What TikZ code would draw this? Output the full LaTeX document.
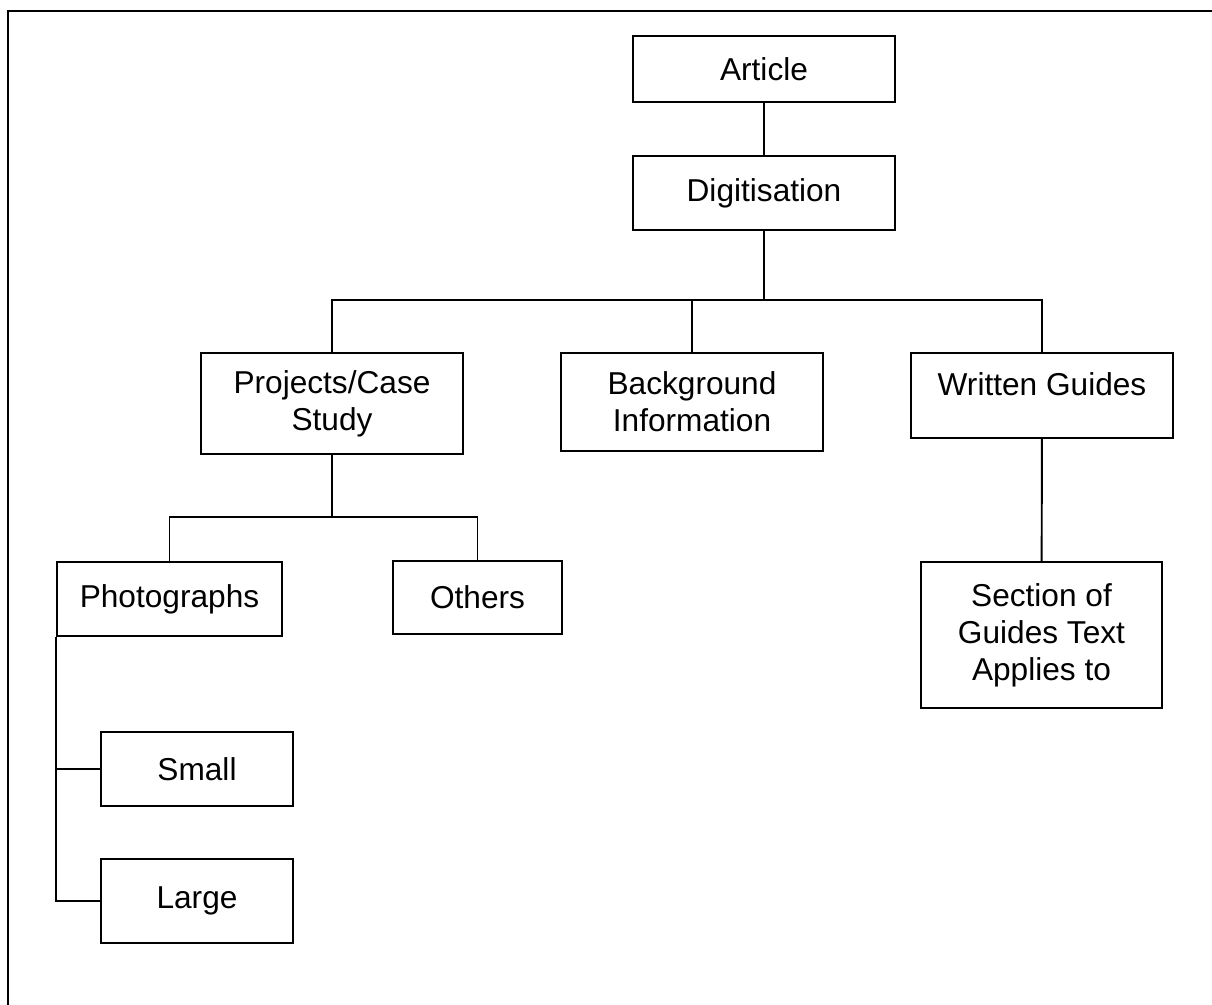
\documentclass[tikz,border=0pt]{standalone}
\usepackage{fontspec}
\setmainfont{Liberation Sans}
\usetikzlibrary{positioning}
\tikzstyle{box} = [rectangle, draw=black, line width=1.1pt, align=center, inner sep=2pt, font=\fontsize{18pt}{21pt}\selectfont]
\tikzstyle{wide} = [box, minimum width=5.24cm]
\tikzstyle{line} = [line width=1.1pt]

\begin{document}
\begin{tikzpicture}
	\useasboundingbox (0,0) rectangle (24.24,-20.10);
	\draw [line width=1.3pt] (0.16,-20.6) -- (0.16,-0.22) -- (24.32,-0.22) -- (24.32,-20.6);
	\node (article) [wide, minimum height=1.32cm] at (15.28,-1.38) {Article};
	\node (digit) [wide, minimum height=1.48cm] at (15.28,-3.86) {Digitisation};
	\node (proj) [wide, minimum height=2.02cm] at (6.64,-8.07) {Projects/Case\\Study};
	\node (back) [wide, minimum height=1.96cm] at (13.84,-8.04) {Background\\Information};
	\node (guides) [wide, minimum height=1.70cm, text height=0.45cm, text depth=0.45cm] at (20.84,-7.91) {Written Guides};
	\node (photo) [box, minimum width=4.5cm, minimum height=1.48cm] at (3.39,-11.98) {Photographs};
	\node (others) [box, minimum width=3.38cm, minimum height=1.46cm] at (9.55,-11.95) {Others};
	\node (section) [box, minimum width=4.82cm, minimum height=2.92cm] at (20.83,-12.70) {Section of\\Guides Text\\Applies to};
	\node (small) [box, minimum width=3.84cm, minimum height=1.48cm] at (3.94,-15.38) {Small};
	\node (large) [box, minimum width=3.84cm, minimum height=1.68cm] at (3.94,-18.02) {Large};
	\coordinate (bar) at (15.28,-6.00);
	\coordinate (projbar) at (6.64,-10.34);
	\draw [line] (article) -- (digit);
	\draw [line] (digit) -- (bar);
	\draw [line] (proj.north) |- (bar) -| (guides.north);
	\draw [line] (back.north) -- (back.north |- bar);
	\draw [line] (proj) -- (projbar);
	\draw [line] (photo.north) |- (projbar) -| (others.north);
	\draw [line] (guides) -- (section);
	\draw [line] (photo.south west) |- (large.west);
	\draw [line] (photo.south west |- small.west) -- (small.west);
	
\end{tikzpicture}
\end{document}
